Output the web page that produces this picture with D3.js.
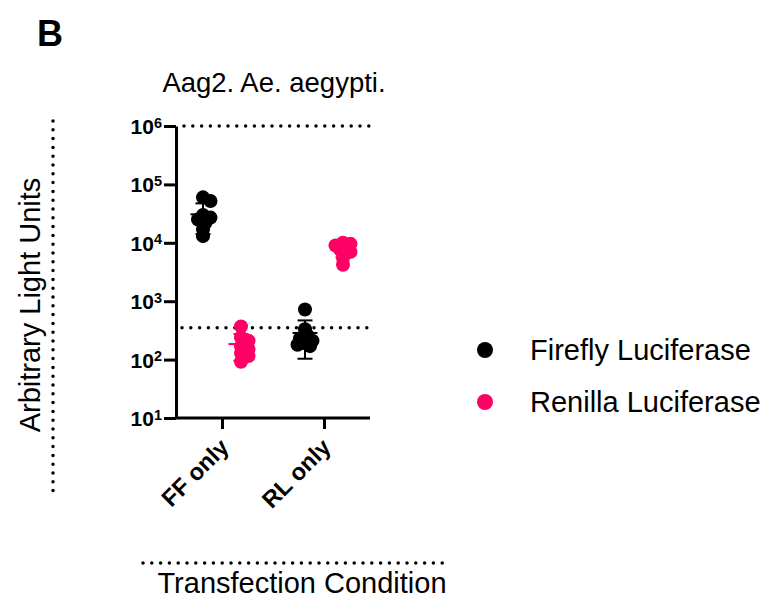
<!DOCTYPE html>
<html>
<head>
<meta charset="utf-8">
<script src="https://cdn.jsdelivr.net/npm/d3@7"></script>
<style>
  html, body { margin: 0; padding: 0; background: #fff; }
  svg { display: block; font-family: "Liberation Sans", Arial, sans-serif; }
</style>
</head>
<body>
<svg id="chart" width="766" height="599"></svg>
<script>
// Luciferase readings (arbitrary light units) per transfection condition
const conditions = ["FF only", "RL only"];
const seriesNames = ["Firefly Luciferase", "Renilla Luciferase"];
const seriesColors = ["#000000", "#ff0066"];

const fireflyFF = [60000, 52000, 30000, 27000, 25000, 22000, 17000, 13000];
const renillaFF = [370, 240, 210, 170, 150, 130, 115, 92];
const fireflyRL = [720, 330, 260, 230, 210, 190, 180, 170];
const renillaRL = [10000, 9600, 9000, 8500, 7500, 7000, 5500, 4200];

const yTickExponents = [1, 2, 3, 4, 5, 6];
const upperLimit = 1e6;
const backgroundLevel = 350;

const groups = [
  { condition: "FF only", series: 0, values: fireflyFF },
  { condition: "FF only", series: 1, values: renillaFF },
  { condition: "RL only", series: 0, values: fireflyRL },
  { condition: "RL only", series: 1, values: renillaRL }
];

const svg = d3.select("#chart");
const plot = { left: 176, right: 370, top: 126, bottom: 418 };

const y = d3.scaleLog().domain([10, 1e6]).range([plot.bottom, plot.top]);
const x = d3.scalePoint().domain(conditions).range([plot.left, plot.right]).padding(0.451);
const offset = d3.scalePoint().domain(seriesNames).range([-19, 19]);

// panel letter and title
svg.append("text").attr("x", 37).attr("y", 46)
  .attr("font-size", 36).attr("font-weight", "bold").text("B");
svg.append("text").attr("x", 274).attr("y", 92).attr("text-anchor", "middle")
  .attr("font-size", 27.5).text("Aag2. Ae. aegypti.");

// dotted reference lines
const dotted = (sel) => sel.attr("stroke", "#000").attr("stroke-width", 3.5)
  .attr("stroke-linecap", "round").attr("stroke-dasharray", "0 8.8");
svg.append("line").call(dotted)
  .attr("x1", plot.left + 8).attr("x2", plot.right)
  .attr("y1", y(upperLimit)).attr("y2", y(upperLimit));
svg.append("line").call(dotted)
  .attr("x1", plot.left + 6).attr("x2", plot.right)
  .attr("y1", y(backgroundLevel)).attr("y2", y(backgroundLevel));

// y axis
const yAxis = d3.axisLeft(y)
  .tickValues(yTickExponents.map(e => Math.pow(10, e)))
  .tickSize(12).tickSizeOuter(0).tickFormat(() => "");
const yg = svg.append("g").attr("transform", `translate(${plot.left},0)`).call(yAxis);
yg.select(".domain").attr("stroke-width", 3);
yg.selectAll(".tick line").attr("stroke-width", 3);
yg.selectAll(".tick").each(function(d) {
  const t = d3.select(this).append("text")
    .attr("x", -14).attr("dy", "0.36em")
    .attr("text-anchor", "end").attr("fill", "#000")
    .attr("font-size", 21).attr("font-weight", "bold")
    .attr("font-family", "Liberation Sans, Arial, sans-serif");
  t.append("tspan").text("10");
  t.append("tspan").attr("dy", "-0.45em").attr("font-size", 14.5)
    .text(String(Math.round(Math.log10(d))));
});

// x axis
const xAxis = d3.axisBottom(x).tickSize(11).tickSizeOuter(0);
const xg = svg.append("g").attr("transform", `translate(0,${plot.bottom})`).call(xAxis);
xg.select(".domain").attr("stroke-width", 3).attr("d", `M${plot.left},0H${plot.right}`);
xg.selectAll(".tick line").attr("stroke-width", 3);
xg.selectAll(".tick text")
  .attr("font-size", 23.5).attr("font-weight", "bold").attr("fill", "#000")
  .attr("font-family", "Liberation Sans, Arial, sans-serif")
  .attr("text-anchor", "end")
  .attr("transform", "translate(2,25) rotate(-45)")
  .attr("dy", "0.35em").attr("y", 0).attr("x", 0);

// compact swarm layout so overlapping dots spread a little sideways
function swarm(values, cx) {
  const placed = [];
  const order = values.map((v, i) => ({ v, i, py: y(v) })).sort((a, b) => a.py - b.py);
  const minDist = 6.5, step = 2.5, maxOff = 9;
  order.forEach(p => {
    let k = 0, px = cx, best = cx, bestD = -1;
    while (true) {
      const off = k === 0 ? 0 : (k % 2 ? 1 : -1) * Math.ceil(k / 2) * step;
      if (Math.abs(off) > maxOff) { px = best; break; }
      px = cx + off;
      const dmin = d3.min(placed, q => Math.hypot(q.px - px, q.py - p.py)) ?? Infinity;
      if (dmin >= minDist) break;
      if (dmin > bestD) { bestD = dmin; best = px; }
      k++;
    }
    placed.push({ px, py: p.py, v: p.v });
  });
  return placed;
}

const r = 7;
groups.forEach(g => {
  const cx = x(g.condition) + offset(seriesNames[g.series]);
  const color = seriesColors[g.series];
  const pts = swarm(g.values, cx);
  const gg = svg.append("g");
  gg.selectAll("circle").data(pts).join("circle")
    .attr("cx", d => d.px).attr("cy", d => d.py).attr("r", r).attr("fill", color);

  // mean ± SD
  const mean = d3.mean(g.values);
  const sd = d3.deviation(g.values);
  const hi = y(mean + sd), lo = y(Math.max(mean - sd, 10));
  gg.append("line").attr("x1", cx).attr("x2", cx).attr("y1", hi).attr("y2", lo)
    .attr("stroke", color).attr("stroke-width", 2);
  gg.append("line").attr("x1", cx - 7.5).attr("x2", cx + 7.5).attr("y1", hi).attr("y2", hi)
    .attr("stroke", color).attr("stroke-width", 2);
  gg.append("line").attr("x1", cx - 7.5).attr("x2", cx + 7.5).attr("y1", lo).attr("y2", lo)
    .attr("stroke", color).attr("stroke-width", 2);
  gg.append("line").attr("x1", cx - 12.5).attr("x2", cx + 12.5).attr("y1", y(mean)).attr("y2", y(mean))
    .attr("stroke", color).attr("stroke-width", 2);
});

// axis titles with their dotted guide lines
svg.append("line").call(dotted).attr("x1", 53).attr("x2", 53).attr("y1", 121).attr("y2", 495);
svg.append("text")
  .attr("transform", "translate(40,305) rotate(-90)")
  .attr("text-anchor", "middle").attr("font-size", 29).text("Arbitrary Light Units");

svg.append("line").call(dotted).attr("x1", 143).attr("x2", 448).attr("y1", 563).attr("y2", 563);
svg.append("text").attr("x", 302).attr("y", 593).attr("text-anchor", "middle")
  .attr("font-size", 29).text("Transfection Condition");

// legend
const legend = svg.append("g");
seriesNames.forEach((name, i) => {
  const ly = 350 + i * 52;
  legend.append("circle").attr("cx", 485).attr("cy", ly).attr("r", 8).attr("fill", seriesColors[i]);
  legend.append("text").attr("x", 530).attr("y", ly).attr("dy", "0.35em")
    .attr("font-size", 29).text(name);
});
</script>
</body>
</html>
